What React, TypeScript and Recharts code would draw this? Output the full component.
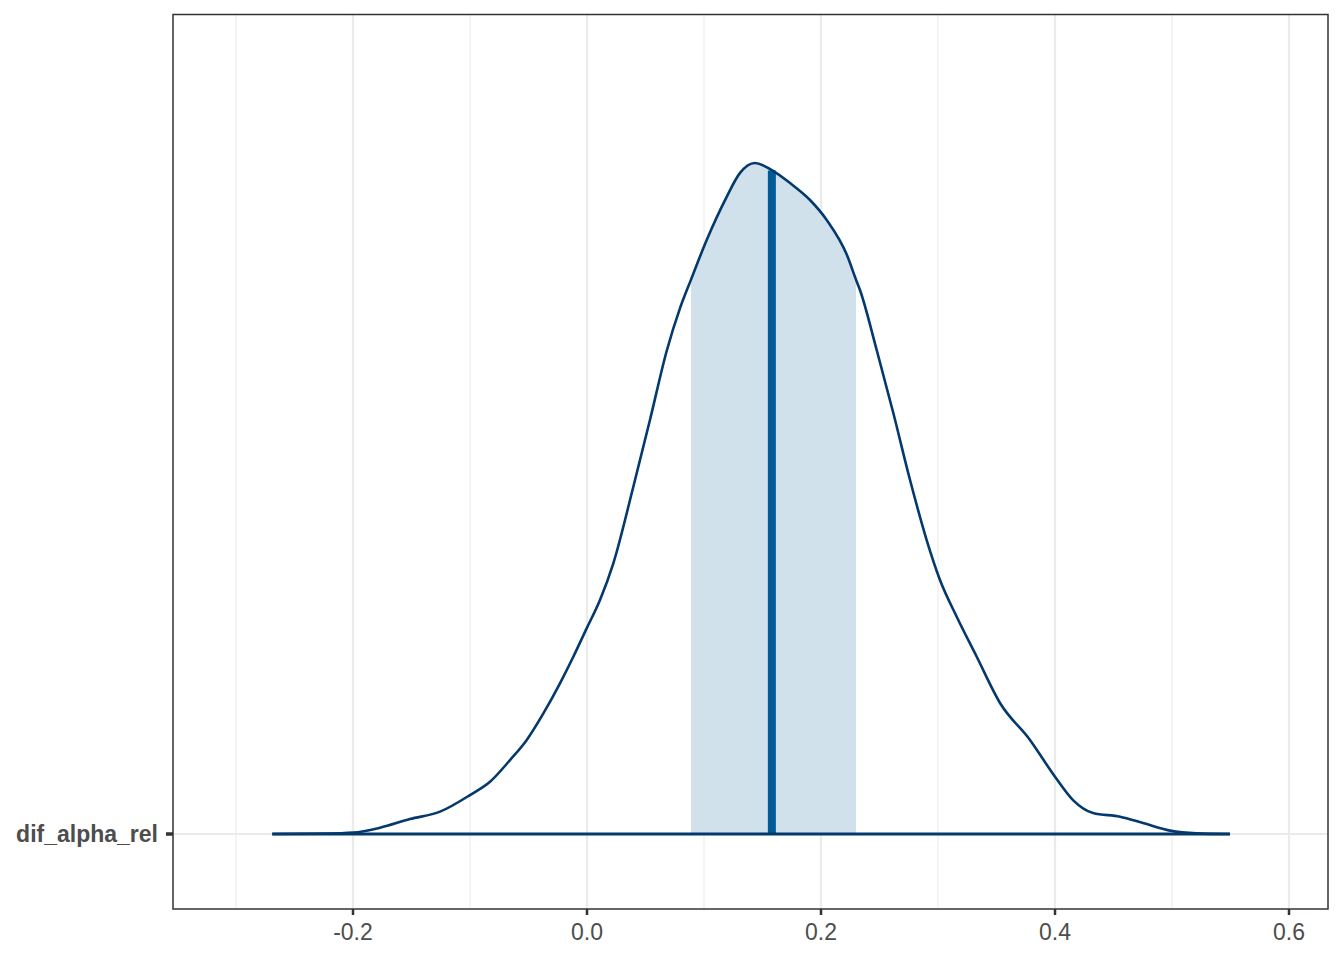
import React from "react";
import { ComposedChart, Area, Line, XAxis, YAxis, ReferenceLine, CartesianGrid } from "recharts";

// Density curve of dif_alpha_rel (x value, density height)
const xValues = [
  -0.269, -0.2225, -0.1997, -0.1769, -0.1513, -0.1256, -0.1, -0.0829, -0.0658, -0.0515,
  -0.0373, -0.0231, -0.0117, -0.0003, 0.0111, 0.0225, 0.0396, 0.0538, 0.0681, 0.0795,
  0.0889, 0.1023, 0.1194, 0.1308, 0.1436, 0.1579, 0.1735, 0.1906, 0.2049, 0.222,
  0.2299, 0.2333, 0.2476, 0.2618, 0.2761, 0.2903, 0.3017, 0.316, 0.3331, 0.353,
  0.3786, 0.4, 0.4154, 0.4325, 0.4556, 0.4752, 0.4983, 0.5211, 0.5496,
];
const densityValues = [
  0, 0.002, 0.008, 0.0375, 0.089, 0.133, 0.232, 0.311, 0.44, 0.56,
  0.718, 0.897, 1.055, 1.224, 1.393, 1.611, 2.067, 2.464, 2.875, 3.13,
  3.3, 3.536, 3.793, 3.935, 3.994, 3.952, 3.875, 3.774, 3.655, 3.449,
  3.3, 3.238, 2.881, 2.506, 2.107, 1.75, 1.512, 1.293, 1.055, 0.78,
  0.56, 0.341, 0.202, 0.125, 0.103, 0.065, 0.02, 0.004, 0,
];
const intervalLow = 0.0889;
const intervalHigh = 0.2299;
const medianX = 0.158;
const medianDensity = 3.95;

const parameterLabels = ["dif_alpha_rel"];
const xTicks = [-0.2, 0, 0.2, 0.4, 0.6];
const xMinorTicks = [-0.3, -0.1, 0.1, 0.3, 0.5];
const xDomain: [number, number] = [-0.35385, 0.63333];
const yDomain: [number, number] = [-0.4464, 4.881];

const data = xValues.map((x, i) => ({
  x,
  density: densityValues[i],
  interval: x >= intervalLow - 1e-9 && x <= intervalHigh + 1e-9 ? densityValues[i] : null,
}));

const W = 1344;
const H = 960;
const M = { top: 14, right: 16, left: 0, bottom: 0 };
const Y_AXIS_W = 173;
const X_AXIS_H = 51;
const FONT = "'Liberation Sans', Arial, Helvetica, sans-serif";

const scaleOf = (axis: any) => {
  const s = axis?.scale;
  if (typeof s === "function") return s;
  if (s && typeof s.map === "function") return (v: number) => s.map(v);
  return null;
};

const vGen = (vals: number[]) => (props: any) => {
  const s = scaleOf(props.xAxis);
  if (s) return vals.map((v) => s(v));
  const left = Y_AXIS_W;
  const width = W - Y_AXIS_W - M.right;
  return vals.map((v) => left + ((v - xDomain[0]) / (xDomain[1] - xDomain[0])) * width);
};
const hGen = (vals: number[]) => (props: any) => {
  const s = scaleOf(props.yAxis);
  if (s) return vals.map((v) => s(v));
  const top = M.top;
  const height = H - M.top - X_AXIS_H;
  return vals.map((v) => top + ((yDomain[1] - v) / (yDomain[1] - yDomain[0])) * height);
};

export default function App() {
  const plotLeft = Y_AXIS_W;
  const plotTop = M.top;
  const plotW = W - Y_AXIS_W - M.right;
  const plotH = H - M.top - X_AXIS_H;
  return (
    <div style={{ position: "relative", width: W, height: H, background: "#fff" }}>
      <style>{"body{margin:0;}"}</style>
      <ComposedChart width={W} height={H} data={data} margin={M}>
        <CartesianGrid
          stroke="#ebebeb"
          strokeWidth={1.1}
          horizontal={false}
          vertical
          verticalCoordinatesGenerator={vGen(xMinorTicks)}
        />
        <CartesianGrid
          stroke="#ebebeb"
          strokeWidth={2.2}
          horizontal
          vertical
          verticalCoordinatesGenerator={vGen(xTicks)}
          horizontalCoordinatesGenerator={hGen([0])}
        />
        <XAxis
          dataKey="x"
          type="number"
          domain={xDomain}
          allowDataOverflow
          ticks={xTicks}
          interval={0}
          height={X_AXIS_H}
          axisLine={false}
          tickLine={{ stroke: "#333333", strokeWidth: 2.5 }}
          tickSize={6}
          tickMargin={9}
          tickFormatter={(v: number) => v.toFixed(1)}
          tick={{ fill: "#4d4d4d", fontSize: 23, fontFamily: FONT }}
        />
        <YAxis
          type="number"
          domain={yDomain}
          allowDataOverflow
          ticks={[0]}
          interval={0}
          width={Y_AXIS_W}
          axisLine={false}
          tickLine={{ stroke: "#333333", strokeWidth: 3.5 }}
          tickSize={7}
          tickMargin={8}
          tickFormatter={() => parameterLabels[0]}
          tick={{ fill: "#4d4d4d", fontSize: 23, fontWeight: "bold", fontFamily: FONT }}
        />
        <Area
          dataKey="interval"
          type="monotone"
          stroke="none"
          fill="#d1e1ec"
          fillOpacity={1}
          baseValue={0}
          connectNulls={false}
          isAnimationActive={false}
          dot={false}
          activeDot={false}
        />
        <ReferenceLine
          segment={[
            { x: medianX, y: 0 },
            { x: medianX, y: medianDensity },
          ]}
          stroke="#005b96"
          strokeWidth={8}
        />
        <Line
          dataKey="density"
          type="monotone"
          stroke="#03396c"
          strokeWidth={2.6}
          dot={false}
          activeDot={false}
          isAnimationActive={false}
        />
        <ReferenceLine
          segment={[
            { x: xValues[0], y: 0 },
            { x: xValues[xValues.length - 1], y: 0 },
          ]}
          stroke="#03396c"
          strokeWidth={3}
        />
      </ComposedChart>
      <svg
        width={W}
        height={H}
        style={{ position: "absolute", left: 0, top: 0, pointerEvents: "none" }}
      >
        <rect
          x={plotLeft}
          y={plotTop + 0.5}
          width={plotW}
          height={plotH - 0.5}
          fill="none"
          stroke="#333333"
          strokeWidth={1.5}
        />
      </svg>
    </div>
  );
}
